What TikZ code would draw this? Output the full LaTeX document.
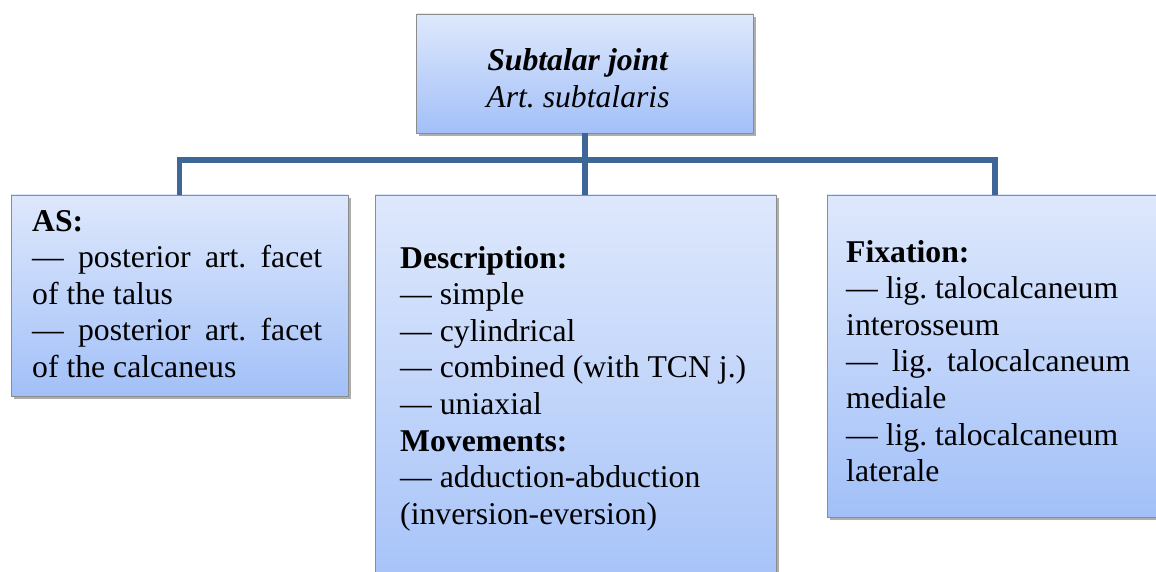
\documentclass[tikz,border=0pt]{standalone}
\usepackage{fontspec}
\setmainfont{Liberation Serif}
\usetikzlibrary{shadows}
\definecolor{busblue}{RGB}{62,102,150}
\definecolor{boxtop}{RGB}{222,232,252}
\definecolor{boxbottom}{RGB}{162,192,248}
\definecolor{boxedge}{RGB}{140,140,140}
\newcommand{\jline}[2]{\makebox[#1][s]{#2}}
\frenchspacing
\begin{document}
\begin{tikzpicture}[x=1pt,y=-1pt,
  panel/.style={draw=boxedge, line width=0.8pt, top color=boxtop, bottom color=boxbottom,
    drop shadow={shadow xshift=2.5pt, shadow yshift=-3pt, opacity=0.45, fill=black!70},
    inner sep=0pt},
  body/.style={inner sep=0pt, align=left, anchor=north west,
    font=\fontsize{31.7}{36.6}\selectfont},
  conn/.style={draw=busblue, line width=5.5pt}]
\useasboundingbox (0,0) rectangle (1156,572);

% boxes
\node[panel, minimum width=337pt, minimum height=119pt] (top) at (585,73.5) {};
\node[panel, minimum width=337pt, minimum height=201pt] (lbox) at (179.5,295.5) {};
\node[panel, minimum width=401pt, minimum height=420pt] (mbox) at (575.5,405) {};
\node[panel, minimum width=336pt, minimum height=322pt] (rbox) at (995,356) {};

% connectors
\coordinate (bus) at (585,160);
\draw[conn] (top.south) -- (top.south |- mbox.north);
\draw[conn] (lbox.north) |- (bus) -| (rbox.north);

% texts
\node[inner sep=0pt, align=center, font=\fontsize{31.7}{37.5}\selectfont] (ttl) at (578,78)
  {\textbf{\textit{Subtalar joint}}\\\textit{Art. subtalaris}};

\node[body] (ltext) at (32,210) {%
  \textbf{AS:}\\
  \jline{290pt}{— posterior art. facet}\\
  of the talus\\
  \jline{290pt}{— posterior art. facet}\\
  of the calcaneus};

\node[body] (mtext) at (400,246) {%
  \textbf{Description:}\\
  — simple\\
  — cylindrical\\
  — combined (with TCN j.)\\
  — uniaxial\\
  \textbf{Movements:}\\
  — adduction-abduction\\
  (inversion-eversion)};

\node[body] (rtext) at (846,240) {%
  \textbf{Fixation:}\\
  — lig. talocalcaneum\\
  interosseum\\
  \jline{284pt}{— lig. talocalcaneum}\\
  mediale\\
  — lig. talocalcaneum\\
  laterale};
\end{tikzpicture}
\end{document}
